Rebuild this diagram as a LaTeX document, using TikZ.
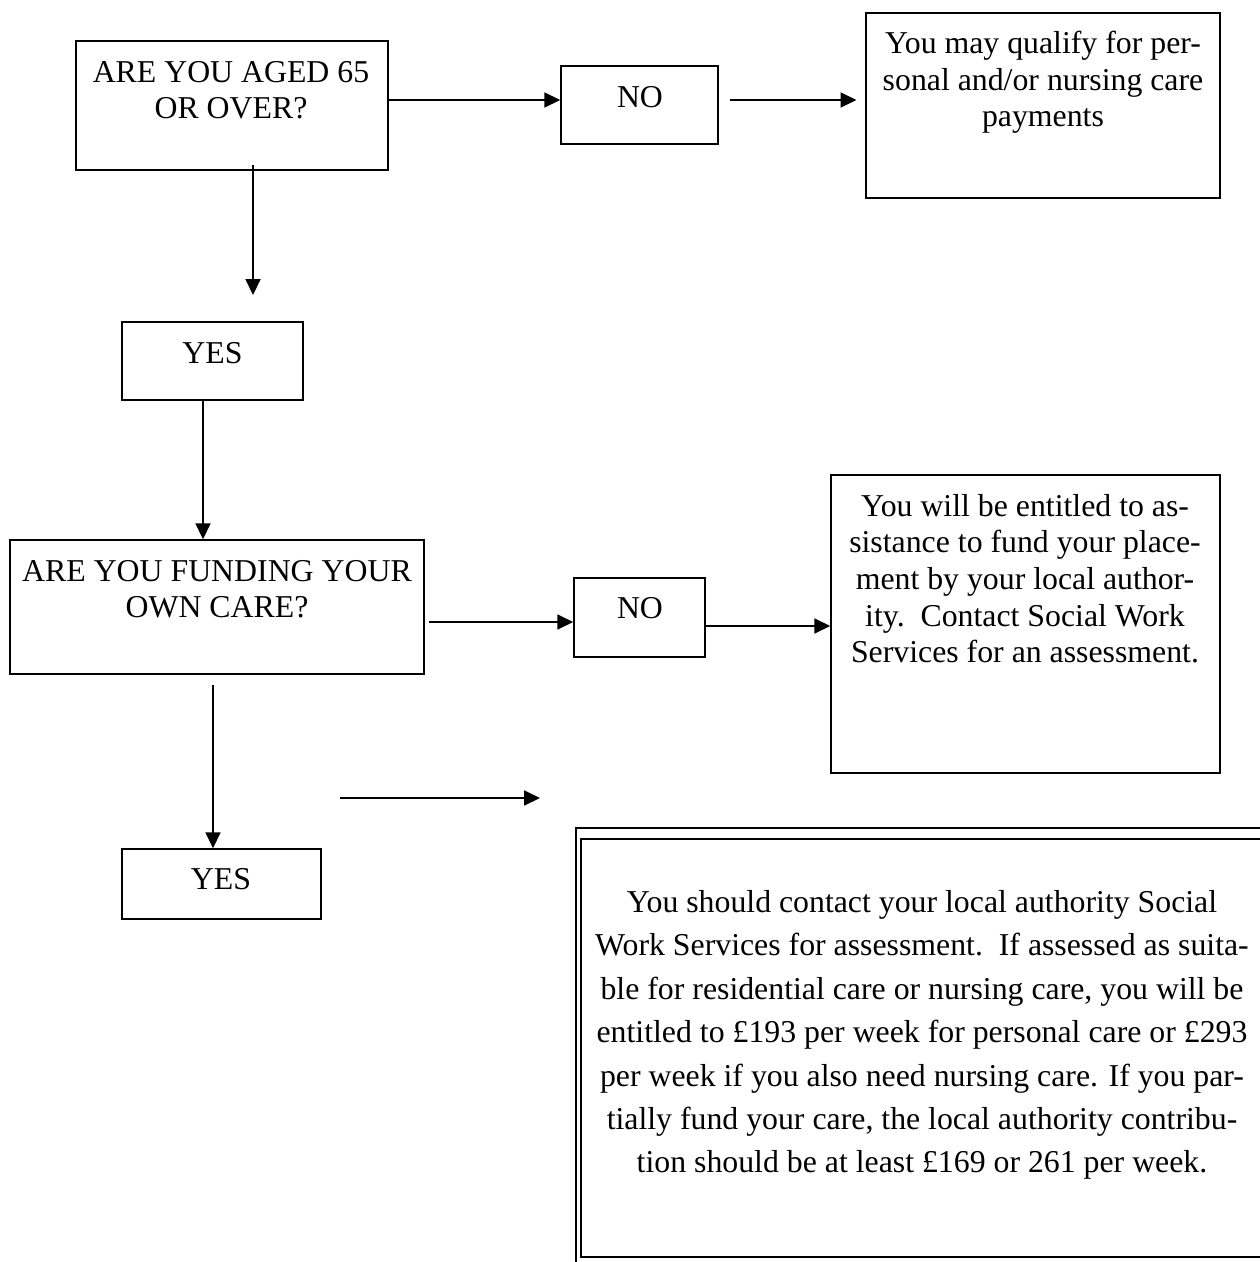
\documentclass[tikz,border=0pt]{standalone}
\usepackage{fontspec}
\setmainfont{Liberation Serif}
\usetikzlibrary{arrows.meta,fit}

\tikzset{
  box/.style={draw, line width=0.85pt, inner sep=0pt},
  txt/.style={font=\fontsize{18.1}{20.8}\selectfont, align=center, inner sep=0pt, anchor=north},
  arr/.style={line width=0.85pt, -{Triangle[length=9pt,width=8.5pt]}}
}

\begin{document}
\begin{tikzpicture}[x=0.02cm, y=-0.02cm]
\useasboundingbox (0,0) rectangle (1260,1262);

% boxes
\node[box, fit={(76,41) (388,170)}] (q1) {};
\node[box, fit={(561,66) (718,144)}] (no1) {};
\node[box, fit={(866,13) (1220,198)}] (r1) {};
\node[box, fit={(122,322) (303,400)}] (yes1) {};
\node[box, fit={(10,540) (424,674)}] (q2) {};
\node[box, fit={(574,578) (705,657)}] (no2) {};
\node[box, fit={(831,475) (1220,773)}] (r2) {};
\node[box, fit={(122,849) (321,919)}] (yes2) {};
\node[box, line width=1.4pt, fit={(576,828) (1285,1285)}] (bigout) {};
\node[box, fit={(581,839) (1265,1257)}] (big) {};

% texts
\node[txt] (q1t) at (231,61) {ARE YOU AGED 65\\OR OVER?};
\node[txt] (no1t) at (640,86) {NO};
\node[txt] (r1t) at (1043,31) {You may qualify for per-\\sonal and/or nursing care\\payments};
\node[txt] (yes1t) at (212.5,342) {YES};
\node[txt] (q2t) at (217,560) {ARE YOU FUNDING YOUR\\OWN CARE?};
\node[txt] (no2t) at (640,597) {NO};
\node[txt] (r2t) at (1025,494) {You will be entitled to as-\\sistance to fund your place-\\ment by your local author-\\ity.\ \ Contact Social Work\\Services for an assessment.};
\node[txt] (yes2t) at (221,868) {YES};
\node[txt, font=\fontsize{18.1}{24.7}\selectfont] (bigt) at (922,890) {You should contact your local authority Social\\Work Services for assessment.\ \ If assessed as suita-\\ble for residential care or nursing care, you will be\\entitled to £193 per week for personal care or £293\\per week if you also need nursing care. If you par-\\tially fund your care, the local authority contribu-\\tion should be at least £169 or 261 per week.};

% connectors
\coordinate (c1) at (0,100);
\coordinate (t1) at (253,295);
\coordinate (c4) at (203,470);
\coordinate (c5) at (0,622);
\coordinate (c6) at (0,626);
\coordinate (c7) at (213,760);
\coordinate (s1) at (340,798);
\coordinate (s2) at (540,798);

\draw[arr] (q1.east |- c1) -- (no1.west |- c1);
\draw[arr, shorten <=6.2pt, shorten >=5pt] (no1.east |- c1) -- (r1.west |- c1);
\draw[arr, shorten <=-3.4pt] (q1.south -| t1) -- (t1);
\draw[arr] (yes1.south -| c4) -- (q2.north -| c4);
\draw[arr, shorten <=2.3pt] (q2.east |- c5) -- (no2.west |- c5);
\draw[arr] (no2.east |- c6) -- (r2.west |- c6);
\draw[arr, shorten <=5.7pt] (q2.south -| c7) -- (yes2.north -| c7);
\draw[arr] (s1) -- (s2);

\end{tikzpicture}
\end{document}
